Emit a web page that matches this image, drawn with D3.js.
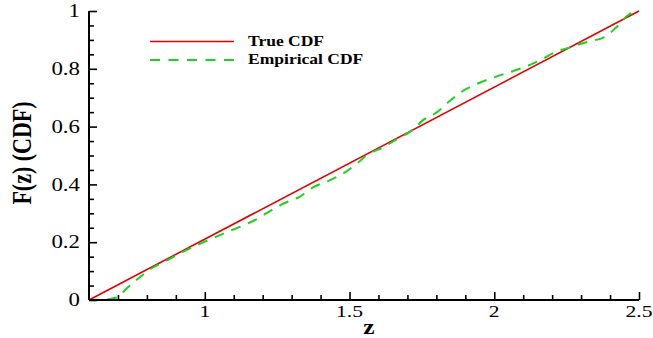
<!DOCTYPE html>
<html>
<head>
<meta charset="utf-8">
<script src="https://cdn.jsdelivr.net/npm/d3@7"></script>
<style>
  html, body { margin: 0; padding: 0; background: #fff; }
  svg { display: block; }
</style>
</head>
<body>
<svg id="chart" width="653" height="338"></svg>
<script>
// True CDF (straight line over the support)
const trueZ = [0.6, 2.5];
const trueF = [0, 1];

// Empirical CDF
const empZ = [0.6, 0.66, 0.70, 0.728, 0.772, 0.814, 0.866, 0.917, 0.969, 1.014,
              1.072, 1.131, 1.176, 1.218, 1.273, 1.329, 1.371, 1.429, 1.480, 1.526,
              1.567, 1.618, 1.664, 1.716, 1.756, 1.802, 1.842, 1.883, 1.934, 1.992,
              2.049, 2.107, 2.159, 2.210, 2.268, 2.320, 2.383, 2.423, 2.463, 2.5];
const empF = [0, 0.002, 0.01, 0.038, 0.076, 0.108, 0.135, 0.163, 0.188, 0.208,
              0.233, 0.257, 0.278, 0.303, 0.334, 0.358, 0.388, 0.413, 0.439, 0.473,
              0.506, 0.529, 0.557, 0.587, 0.624, 0.650, 0.685, 0.718, 0.745, 0.768,
              0.787, 0.807, 0.830, 0.857, 0.876, 0.893, 0.911, 0.945, 0.986, 1.0];

// Axis ticks
const xMajor = [1, 1.5, 2, 2.5];
const xMajorLabels = ["1", "1.5", "2", "2.5"];
const xMinor = [0.7, 0.8, 0.9, 1.1, 1.2, 1.3, 1.4, 1.6, 1.7, 1.8, 1.9, 2.1, 2.2, 2.3, 2.4];
const yMajor = [0, 0.2, 0.4, 0.6, 0.8, 1];
const yMajorLabels = ["0", "0.2", "0.4", "0.6", "0.8", "1"];
const yMinor = [0.05, 0.1, 0.15, 0.25, 0.3, 0.35, 0.45, 0.5, 0.55, 0.65, 0.7, 0.75, 0.85, 0.9, 0.95];

const seriesNames = ["True CDF", "Empirical CDF"];
const xTitle = "z";
const yTitle = "F(z) (CDF)";

const svg = d3.select("#chart");
const x = d3.scaleLinear().domain([0.6, 2.5]).range([89, 639]);
const y = d3.scaleLinear().domain([0, 1]).range([300, 11]);

const serif = "'Liberation Serif', 'Times New Roman', serif";
const stretch = 1.27; // glyphs are drawn horizontally widened

const line = d3.line().x(d => x(d[0])).y(d => y(d[1]));

// Curves
svg.append("path")
  .datum(d3.zip(trueZ, trueF))
  .attr("d", line)
  .attr("fill", "none")
  .attr("stroke", "#e00000")
  .attr("stroke-width", 1.6);

svg.append("path")
  .datum(d3.zip(empZ, empF))
  .attr("d", line.curve(d3.curveMonotoneX))
  .attr("fill", "none")
  .attr("stroke", "#1fd01f")
  .attr("stroke-width", 2)
  .attr("stroke-dasharray", "10,8");

// Axes (inward ticks, no labels from the generator)
const xAxis = d3.axisBottom(x).tickValues(xMajor).tickSize(-8).tickFormat("");
const xAxisMinor = d3.axisBottom(x).tickValues(xMinor).tickSize(-5).tickFormat("");
const yAxis = d3.axisLeft(y).tickValues(yMajor).tickSize(-8).tickFormat("");
const yAxisMinor = d3.axisLeft(y).tickValues(yMinor).tickSize(-5).tickFormat("");

function styleAxis(g) {
  g.select(".domain").attr("stroke", "#000").attr("stroke-width", 2);
  g.selectAll(".tick line").attr("stroke", "#000").attr("stroke-width", 1.6);
}

svg.append("g").attr("transform", `translate(0,${y(0)})`).call(xAxisMinor).call(styleAxis)
  .select(".domain").remove();
svg.append("g").attr("transform", `translate(0,${y(0)})`).call(xAxis).call(styleAxis)
  .select(".domain").attr("d", `M${x.range()[0]},0H${x.range()[1]}`);
svg.append("g").attr("transform", `translate(${x(0.6)},0)`).call(yAxisMinor).call(styleAxis)
  .select(".domain").remove();
svg.append("g").attr("transform", `translate(${x(0.6)},0)`).call(yAxis).call(styleAxis)
  .select(".domain").attr("d", `M0,${y.range()[0]}V${y.range()[1]}`);

// Text helper: horizontally widened serif glyphs
function stretchedText(g, px, py, txt, opts) {
  const t = g.append("g").attr("transform", `translate(${px},${py}) scale(${stretch},1)`)
    .append("text")
    .attr("font-family", serif)
    .attr("font-size", opts.size)
    .attr("font-weight", opts.weight || "normal")
    .attr("text-anchor", opts.anchor || "start")
    .attr("fill", "#000")
    .text(txt);
  if (opts.dy) t.attr("dy", opts.dy);
  return t;
}

// Tick labels
const labels = svg.append("g");
xMajor.forEach((v, i) => stretchedText(labels, x(v), 317, xMajorLabels[i], {size: 17, anchor: "middle"}));
yMajor.forEach((v, i) => stretchedText(labels, 80, y(v), yMajorLabels[i], {size: 18, anchor: "end", dy: "0.34em"}));

// Axis titles
stretchedText(svg, 369, 334, xTitle, {size: 20, weight: "bold", anchor: "middle"});
svg.append("g").attr("transform", `translate(31,153) scale(${stretch},1) rotate(-90)`)
  .append("text")
  .attr("font-family", serif)
  .attr("font-size", 22)
  .attr("font-weight", "bold")
  .attr("text-anchor", "middle")
  .text(yTitle);

// Legend
const legend = svg.append("g");
const legendY = [41.5, 60];
const legendStyles = [
  {stroke: "#e00000", width: 1.6, dash: null},
  {stroke: "#1fd01f", width: 2, dash: "10,8.5"}
];
seriesNames.forEach((name, i) => {
  legend.append("line")
    .attr("x1", 150).attr("x2", 234)
    .attr("y1", legendY[i]).attr("y2", legendY[i])
    .attr("stroke", legendStyles[i].stroke)
    .attr("stroke-width", legendStyles[i].width)
    .attr("stroke-dasharray", legendStyles[i].dash);
  stretchedText(legend, 248, legendY[i] + 4, name, {size: 13.8, weight: "bold"});
});
</script>
</body>
</html>
